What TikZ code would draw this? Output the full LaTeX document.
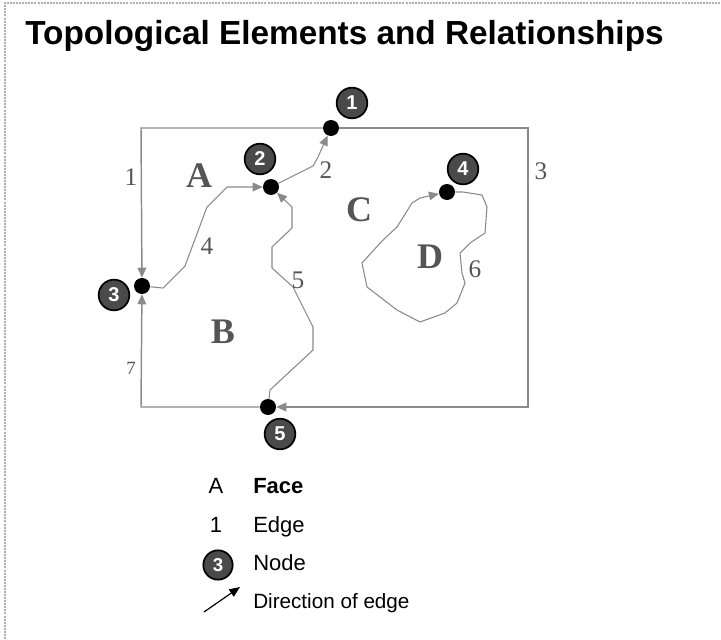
\documentclass[tikz,border=0pt]{standalone}
\usepackage{fontspec}
\setmainfont{Liberation Serif}
\setsansfont{Liberation Sans}
\usetikzlibrary{arrows.meta}
\definecolor{edgegray}{HTML}{8A8A8A}
\definecolor{labgray}{HTML}{555555}
\definecolor{nodefill}{HTML}{4A4A4A}
\definecolor{framegray}{HTML}{B0B0B0}
\begin{document}
\begin{tikzpicture}[x=0.75pt,y=-0.75pt,
  dot/.style={circle,fill=black,inner sep=0pt,minimum size=12pt},
  badge/.style={circle,fill=nodefill,draw=black,line width=1.3pt,inner sep=0pt,minimum size=23pt,
    text=white,font=\sffamily\bfseries\fontsize{15}{15}\selectfont},
  face/.style={text=labgray,font=\rmfamily\bfseries\fontsize{27}{27}\selectfont},
  elab/.style={text=labgray,font=\rmfamily\fontsize{19}{19}\selectfont},
  border/.style={draw=edgegray,line width=1.1pt},
  edge/.style={draw=edgegray,line width=0.8pt},
  arr/.style={-{Triangle[length=7.5pt,width=6.5pt,fill=edgegray]}},
  legtext/.style={font=\sffamily\fontsize{16.5}{16.5}\selectfont,anchor=base west,inner sep=0pt}
]
\useasboundingbox (0,0) rectangle (721,639);
% frame
\draw[framegray,line width=1.2pt,dash pattern=on 1.5pt off 0.8pt] (5,639) -- (5,3) -- (721,3);
% title
\node[anchor=base west,font=\sffamily\bfseries\fontsize{25}{28}\selectfont,inner sep=0pt] (title) at (25,44) {Topological Elements and Relationships};

% nodes (dots)
\node[dot] (n1) at (331,128) {};
\node[dot] (n2) at (271,187) {};
\node[dot] (n3) at (142,286) {};
\node[dot] (n4) at (447,192) {};
\node[dot] (n5) at (268,407) {};

% edges 1, 3, 7 (outer rectangle)
\path[border,arr] (n1) -- (141,128) -- (n3);
\path[border,arr] (n1) -- (528,128) -- (528,407) -- (n5);
\path[border,arr] (n5) -- (141,407) -- (n3);
% edge 2
\path[edge,arr] (n2) -- (313,166) -- (318,157) -- (n1);
% edge 4
\path[edge,arr] (n3) -- (163,288) -- (185,266) -- (207,207) -- (227,187) -- (n2);
% edge 5
\path[edge,arr] (n5) -- (270,390) -- (313,350) -- (313,327) -- (293,287) -- (272,268)
  -- (272,247) -- (292,228) -- (292,207) -- (n2);
% edge 6
\path[edge,arr] (n4) -- (463,192) -- (482,195) -- (487,207) -- (485,233) -- (470,243)
  -- (460,253) -- (462,273) -- (465,283) -- (457,303) -- (445,313) -- (420,322)
  -- (397,310) -- (367,287) -- (362,263) -- (383,240) -- (397,227) -- (412,203)
  -- (420,198) -- (n4);

% node badges
\node[badge] (b1) at (352,103) {1};
\node[badge] (b2) at (260,159) {2};
\node[badge] (b3) at (114,295) {3};
\node[badge] (b4) at (463,169) {4};
\node[badge] (b5) at (280,434) {5};

% face labels
\node[face] (fA) at (199,176) {A};
\node[face] (fB) at (223,332) {B};
\node[face] (fC) at (359,210) {C};
\node[face] (fD) at (430,257) {D};

% edge labels
\node[elab] (l1) at (131,177) {1};
\node[elab] (l2) at (326,170) {2};
\node[elab] (l3) at (541,171) {3};
\node[elab] (l4) at (207,246) {4};
\node[elab] (l5) at (298,280) {5};
\node[elab] (l6) at (475,269) {6};
\node[elab,font=\rmfamily\fontsize{14}{14}\selectfont] (l7) at (131,368) {7};

% legend
\node[font=\sffamily\fontsize{16.5}{16.5}\selectfont,anchor=base,inner sep=0pt] (kA) at (216,493) {A};
\node[legtext,font=\sffamily\bfseries\fontsize{16.5}{16.5}\selectfont] (kFace) at (253,493) {Face};
\node[font=\sffamily\fontsize{16.5}{16.5}\selectfont,anchor=base,inner sep=0pt] (k1) at (216,532) {1};
\node[legtext] (kEdge) at (253,532) {Edge};
\node[badge,minimum size=22pt,font=\sffamily\bfseries\fontsize{14}{14}\selectfont] (k3) at (218,565) {3};
\node[legtext] (kNode) at (253,570) {Node};
\coordinate (ka) at (204,612);
\coordinate (kb) at (240,587);
\draw[line width=0.9pt,-{Triangle[length=8pt,width=6.5pt]}] (ka) -- (kb);
\node[legtext,font=\sffamily\fontsize{15.5}{15.5}\selectfont] (kDir) at (253,608) {Direction of edge};
\end{tikzpicture}
\end{document}
